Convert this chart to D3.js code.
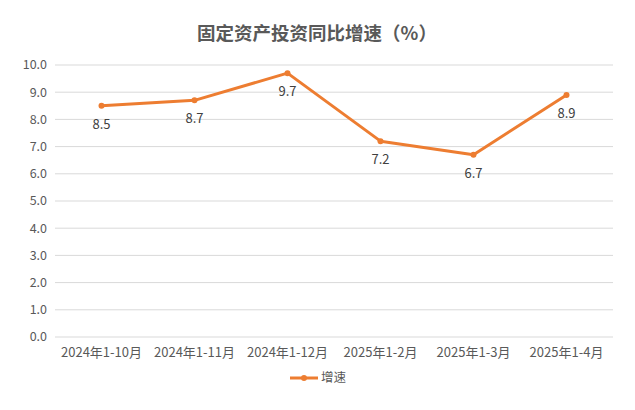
<!DOCTYPE html>
<html>
<head>
<meta charset="utf-8">
<script src="https://cdn.jsdelivr.net/npm/d3@7"></script>
<style>
  body { margin: 0; background: #fff; }
  text { font-family: "Noto Sans CJK SC", "Noto Sans", sans-serif; }
</style>
</head>
<body>
<svg width="635" height="410"></svg>
<script>
// data
var categories = ['2024年1-10月', '2024年1-11月', '2024年1-12月', '2025年1-2月', '2025年1-3月', '2025年1-4月'];
var growth = [8.5, 8.7, 9.7, 7.2, 6.7, 8.9];
var yTicks = [0, 1, 2, 3, 4, 5, 6, 7, 8, 9, 10];

var svg = d3.select('svg');
var lineColor = '#ED7D31';
var textColor = '#595959';

var x = d3.scaleBand()
  .domain(categories)
  .range([55, 613]);

var y = d3.scaleLinear()
  .domain([0, 10])
  .range([337, 65]);

// title
svg.append('text')
  .attr('x', 317)
  .attr('y', 40)
  .attr('text-anchor', 'middle')
  .style('font-size', '18.5px')
  .style('font-weight', 'bold')
  .style('fill', textColor)
  .text('固定资产投资同比增速（%）');

// gridlines
svg.append('g')
  .selectAll('line')
  .data(yTicks)
  .enter().append('line')
  .attr('x1', 55)
  .attr('x2', 613)
  .attr('y1', function (d) { return y(d); })
  .attr('y2', function (d) { return y(d); })
  .style('stroke', '#d9d9d9')
  .style('stroke-width', 1);

// y labels
svg.append('g')
  .selectAll('text')
  .data(yTicks)
  .enter().append('text')
  .attr('x', 47)
  .attr('y', function (d) { return y(d); })
  .attr('dy', '.35em')
  .attr('text-anchor', 'end')
  .style('font-size', '12.5px')
  .style('fill', textColor)
  .text(function (d) { return d.toFixed(1); });

// x labels
svg.append('g')
  .selectAll('text')
  .data(categories)
  .enter().append('text')
  .attr('x', function (d) { return x(d) + x.bandwidth() / 2; })
  .attr('y', 357)
  .attr('text-anchor', 'middle')
  .style('font-size', '13px')
  .style('fill', textColor)
  .text(function (d) { return d; });

var points = categories.map(function (c, i) { return { cat: c, val: growth[i] }; });

var line = d3.line()
  .x(function (d) { return x(d.cat) + x.bandwidth() / 2; })
  .y(function (d) { return y(d.val); });

svg.append('path')
  .datum(points)
  .attr('d', line)
  .style('fill', 'none')
  .style('stroke', lineColor)
  .style('stroke-width', 3)
  .style('stroke-linejoin', 'round')
  .style('stroke-linecap', 'round');

svg.append('g')
  .selectAll('circle')
  .data(points)
  .enter().append('circle')
  .attr('cx', function (d) { return x(d.cat) + x.bandwidth() / 2; })
  .attr('cy', function (d) { return y(d.val); })
  .attr('r', 3)
  .style('fill', lineColor);

// value labels below points
svg.append('g')
  .selectAll('text')
  .data(points)
  .enter().append('text')
  .attr('x', function (d) { return x(d.cat) + x.bandwidth() / 2; })
  .attr('y', function (d) { return y(d.val) + 23; })
  .attr('text-anchor', 'middle')
  .style('font-size', '13px')
  .style('fill', '#404040')
  .text(function (d) { return d.val.toFixed(1); });

// legend
var legend = svg.append('g').attr('transform', 'translate(290,378)');
legend.append('line')
  .attr('x1', 0).attr('x2', 28)
  .style('stroke', lineColor)
  .style('stroke-width', 3);
legend.append('circle')
  .attr('cx', 14).attr('r', 3)
  .style('fill', lineColor);
legend.append('text')
  .attr('x', 31)
  .attr('dy', '.35em')
  .style('font-size', '12.5px')
  .style('fill', textColor)
  .text('增速');
</script>
</body>
</html>
